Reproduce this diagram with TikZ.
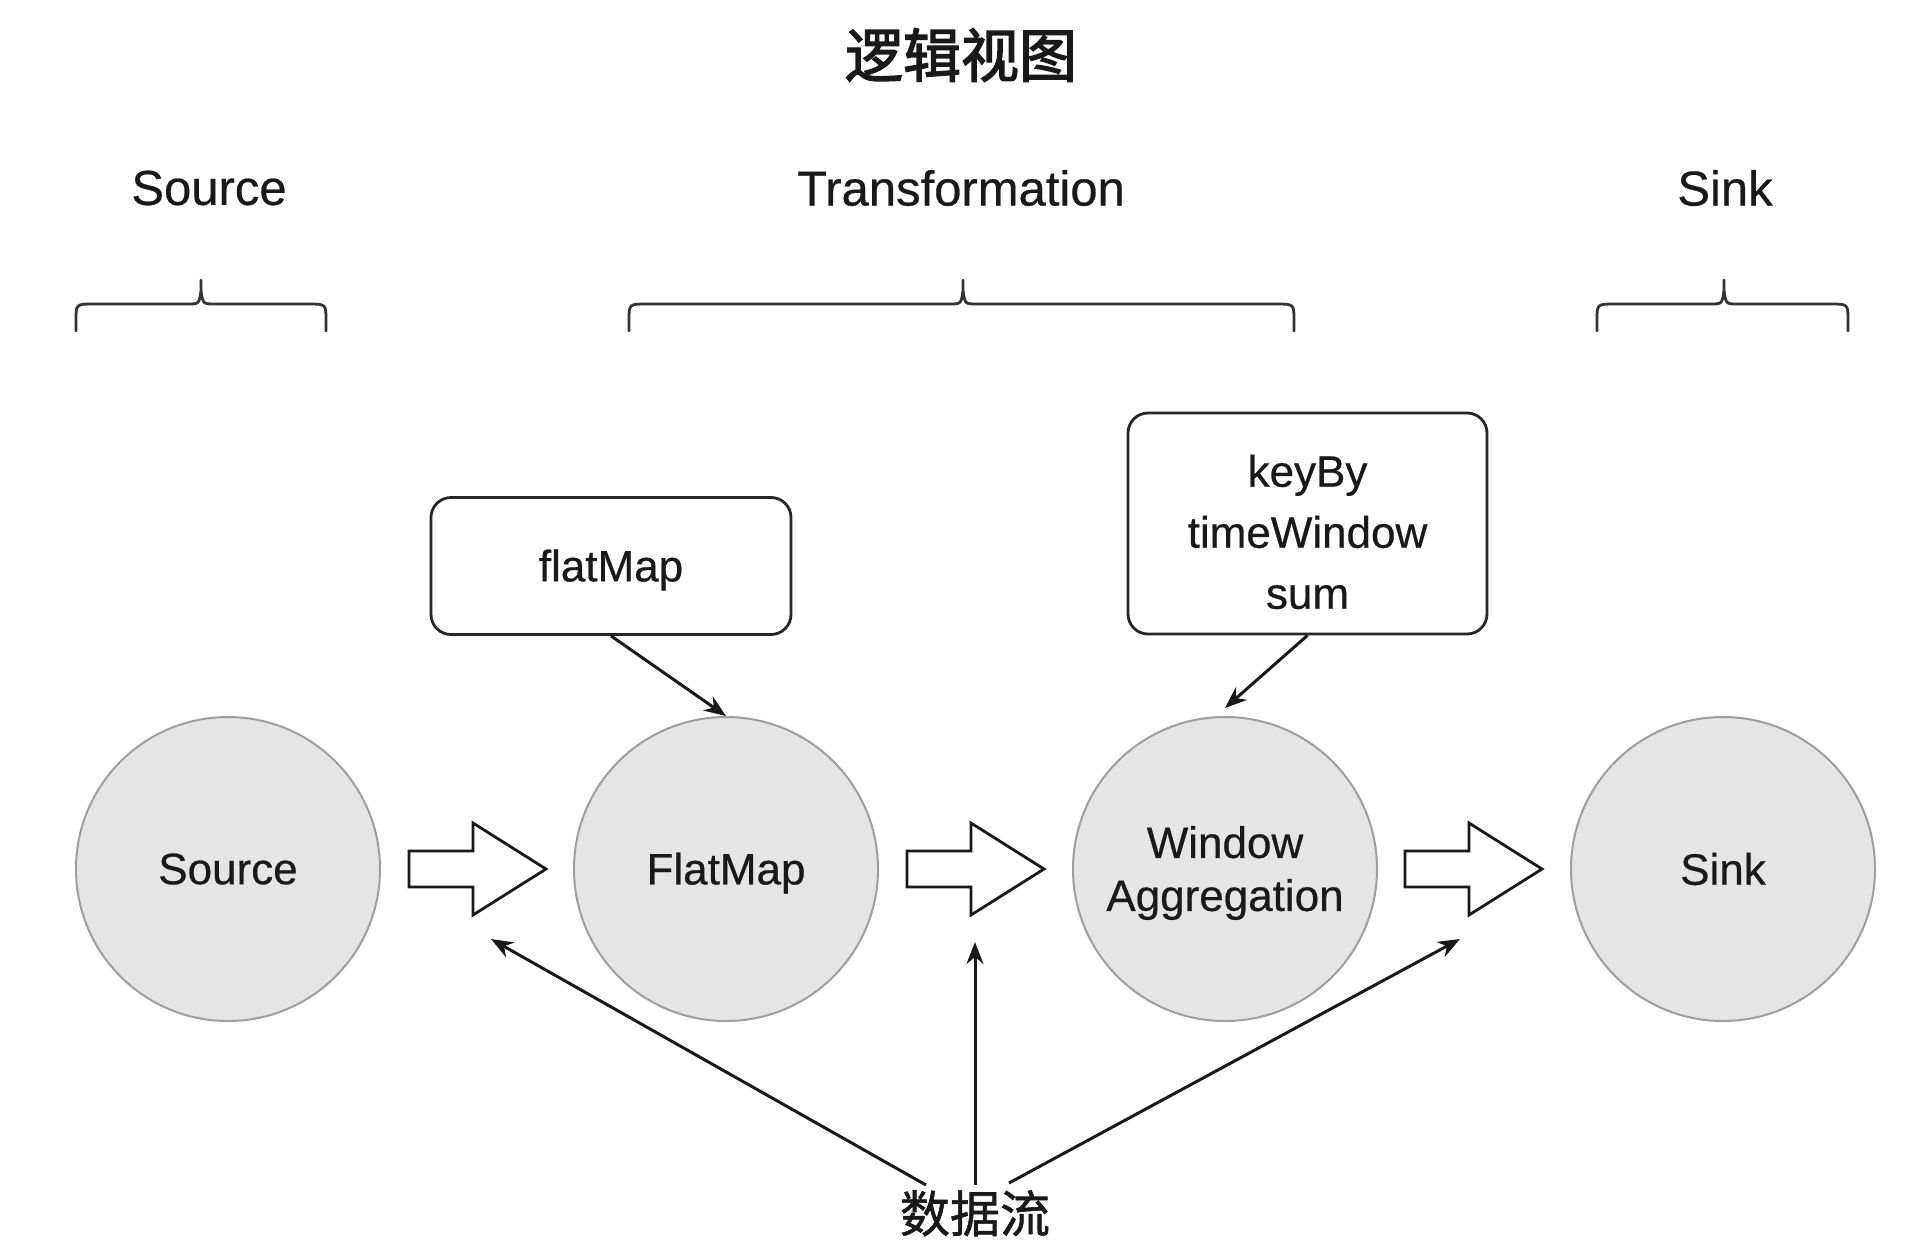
\documentclass[tikz,border=0pt]{standalone}
\usepackage{fontspec}
\setmainfont{Liberation Sans}[BoldFont={Liberation Sans}, BoldFeatures={FakeBold=0.5}]
\newfontfamily\cjk{Noto Sans CJK SC}[BoldFont={Noto Sans CJK SC}, BoldFeatures={FakeBold=1.2}]
\newfontfamily\cjkt{Noto Sans CJK SC}[BoldFont={Noto Sans CJK SC}, BoldFeatures={FakeBold=2.4}]
\usetikzlibrary{arrows.meta}
\newcommand\hollowarr[1]{%
  \draw[hollow] (#1,851) -- (#1+64,851) -- (#1+64,823) -- (#1+137,869) -- (#1+64,915) -- (#1+64,887) -- (#1,887) -- cycle;}
\newcommand\mybrace[3]{%
  \draw[bracestyle] (#1,331) -- (#1,320) .. controls (#1,304) .. (#1+18,304) -- (#2-14,304) .. controls (#2-2,304) .. (#2,291) -- (#2,280);
  \draw[bracestyle] (#3,331) -- (#3,320) .. controls (#3,304) .. (#3-18,304) -- (#2+14,304) .. controls (#2+2,304) .. (#2,291);}
\begin{document}
\begin{tikzpicture}[x=1pt,y=-1pt,
  lbl/.style={font=\fontsize{49}{58}\selectfont\bfseries, text=black!90, inner sep=0pt},
  circ/.style={circle, draw=black!38, line width=2pt, fill=black!10, minimum size=304pt, inner sep=0pt},
  opbox/.style={draw=black!85, line width=2.8pt, rounded corners=20pt, fill=white, inner sep=0pt},
  txt/.style={inner sep=0pt, align=center, text=black!90},
  circtxt/.style={txt, font=\fontsize{44}{53}\selectfont\bfseries},
  boxtxt/.style={txt, font=\fontsize{44}{61}\selectfont\bfseries},
  conn/.style={draw=black!90, line width=3pt, -{Stealth[length=22pt,width=17pt]}},
  bracestyle/.style={draw=black!80, line width=2.8pt, line cap=round},
  hollow/.style={draw=black!90, line width=2.8pt, fill=white, line join=miter}]
\useasboundingbox[fill=white] (0,0) rectangle (1924,1254);

\node[font=\fontsize{58}{66}\selectfont\cjkt\bfseries, text=black!90] (title) at (961,55) {逻辑视图};

\node[lbl] (lsrc) at (209,188) {Source};
\node[lbl] (ltr) at (961,188) {Transformation};
\node[lbl] (lsink) at (1725,188) {Sink};

\mybrace{76}{201}{326}
\mybrace{629}{963}{1294}
\mybrace{1597}{1724}{1848}

\node[circ] (src) at (228,869) {};
\node[circ] (fm) at (726,869) {};
\node[circ] (wa) at (1225,869) {};
\node[circ] (sink) at (1723,869) {};
\node[circtxt] (srct) at (228,869) {Source};
\node[circtxt] (fmt) at (726,873) {FlatMap};
\node[circtxt] (wat) at (1225,873) {Window\\Aggregation};
\node[circtxt] (sinkt) at (1723,869) {Sink};

\hollowarr{409}
\hollowarr{907}
\hollowarr{1405}

\node[opbox, minimum width=360pt, minimum height=137pt] (flatbox) at (611,566) {};
\node[opbox, minimum width=359pt, minimum height=221pt] (keybox) at (1307.5,523.5) {};
\node[boxtxt] (flatt) at (611,570) {flatMap};
\node[boxtxt] (keyt) at (1307.5,532) {keyBy\\timeWindow\\sum};

\draw[conn] (flatbox.south) -- (fm.north);
\draw[conn] (keybox.south) -- ([yshift=8pt]wa.north);

\node[font=\fontsize{50}{58}\selectfont\cjk\bfseries, text=black!90, inner sep=0pt, anchor=north] (flow) at (975,1190) {数据流};
\coordinate (t1) at (491,939);
\coordinate (t2) at (975,942);
\coordinate (t3) at (1460,939);
\draw[conn] ([xshift=-49pt,yshift=5pt]flow.north) -- (t1);
\draw[conn] ([yshift=5pt]flow.north) -- (t2);
\draw[conn] ([xshift=34pt,yshift=7pt]flow.north) -- (t3);
\end{tikzpicture}
\end{document}
